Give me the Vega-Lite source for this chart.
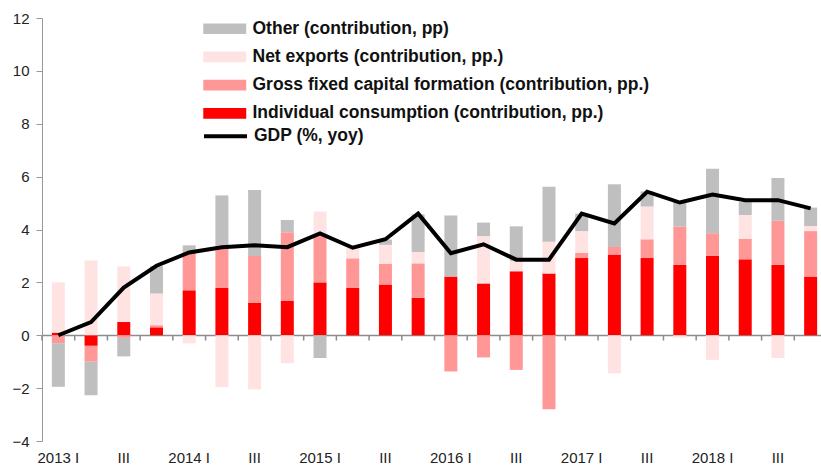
{
  "$schema": "https://vega.github.io/schema/vega-lite/v6.json",
  "width": 779,
  "height": 423,
  "autosize": {"type": "none"},
  "padding": {"left": 42, "top": 18, "right": 0, "bottom": 32},
  "background": "white",
  "config": {
    "view": {"stroke": null},
    "axis": {"labelFont": "Liberation Sans", "labelFontSize": 15, "labelColor": "#222", "domainColor": "#999", "tickColor": "#999"},
    "legend": {"labelFont": "Liberation Sans", "labelFontWeight": "bold", "labelFontSize": 17.5, "labelColor": "#111", "padding": 0, "labelLimit": 0}
  },
  "datasets": {
    "bars": [
      {"q": "2013 I", "s": "Individual consumption (contribution, pp.)", "v": 0.1},
      {"q": "2013 I", "s": "Gross fixed capital formation (contribution, pp.)", "v": -0.3},
      {"q": "2013 I", "s": "Net exports (contribution, pp.)", "v": 1.9},
      {"q": "2013 I", "s": "Other (contribution, pp)", "v": -1.65},
      {"q": "2013 II", "s": "Individual consumption (contribution, pp.)", "v": -0.4},
      {"q": "2013 II", "s": "Gross fixed capital formation (contribution, pp.)", "v": -0.6},
      {"q": "2013 II", "s": "Net exports (contribution, pp.)", "v": 2.83},
      {"q": "2013 II", "s": "Other (contribution, pp)", "v": -1.27},
      {"q": "2013 III", "s": "Individual consumption (contribution, pp.)", "v": 0.5},
      {"q": "2013 III", "s": "Gross fixed capital formation (contribution, pp.)", "v": -0.1},
      {"q": "2013 III", "s": "Net exports (contribution, pp.)", "v": 2.1},
      {"q": "2013 III", "s": "Other (contribution, pp)", "v": -0.7},
      {"q": "2013 IV", "s": "Individual consumption (contribution, pp.)", "v": 0.3},
      {"q": "2013 IV", "s": "Gross fixed capital formation (contribution, pp.)", "v": 0.08},
      {"q": "2013 IV", "s": "Net exports (contribution, pp.)", "v": 1.2},
      {"q": "2013 IV", "s": "Other (contribution, pp)", "v": 1.03},
      {"q": "2014 I", "s": "Individual consumption (contribution, pp.)", "v": 1.7},
      {"q": "2014 I", "s": "Gross fixed capital formation (contribution, pp.)", "v": 1.48},
      {"q": "2014 I", "s": "Net exports (contribution, pp.)", "v": -0.31},
      {"q": "2014 I", "s": "Other (contribution, pp)", "v": 0.22},
      {"q": "2014 II", "s": "Individual consumption (contribution, pp.)", "v": 1.79},
      {"q": "2014 II", "s": "Gross fixed capital formation (contribution, pp.)", "v": 1.61},
      {"q": "2014 II", "s": "Net exports (contribution, pp.)", "v": -1.96},
      {"q": "2014 II", "s": "Other (contribution, pp)", "v": 1.89},
      {"q": "2014 III", "s": "Individual consumption (contribution, pp.)", "v": 1.22},
      {"q": "2014 III", "s": "Gross fixed capital formation (contribution, pp.)", "v": 1.78},
      {"q": "2014 III", "s": "Net exports (contribution, pp.)", "v": -2.05},
      {"q": "2014 III", "s": "Other (contribution, pp)", "v": 2.49},
      {"q": "2014 IV", "s": "Individual consumption (contribution, pp.)", "v": 1.3},
      {"q": "2014 IV", "s": "Gross fixed capital formation (contribution, pp.)", "v": 2.6},
      {"q": "2014 IV", "s": "Net exports (contribution, pp.)", "v": -1.06},
      {"q": "2014 IV", "s": "Other (contribution, pp)", "v": 0.46},
      {"q": "2015 I", "s": "Individual consumption (contribution, pp.)", "v": 2.0},
      {"q": "2015 I", "s": "Gross fixed capital formation (contribution, pp.)", "v": 1.83},
      {"q": "2015 I", "s": "Net exports (contribution, pp.)", "v": 0.85},
      {"q": "2015 I", "s": "Other (contribution, pp)", "v": -0.86},
      {"q": "2015 II", "s": "Individual consumption (contribution, pp.)", "v": 1.79},
      {"q": "2015 II", "s": "Gross fixed capital formation (contribution, pp.)", "v": 1.12},
      {"q": "2015 II", "s": "Net exports (contribution, pp.)", "v": 0.39},
      {"q": "2015 II", "s": "Other (contribution, pp)", "v": 0.0},
      {"q": "2015 III", "s": "Individual consumption (contribution, pp.)", "v": 1.92},
      {"q": "2015 III", "s": "Gross fixed capital formation (contribution, pp.)", "v": 0.79},
      {"q": "2015 III", "s": "Net exports (contribution, pp.)", "v": 0.71},
      {"q": "2015 III", "s": "Other (contribution, pp)", "v": 0.2},
      {"q": "2015 IV", "s": "Individual consumption (contribution, pp.)", "v": 1.42},
      {"q": "2015 IV", "s": "Gross fixed capital formation (contribution, pp.)", "v": 1.3},
      {"q": "2015 IV", "s": "Net exports (contribution, pp.)", "v": 0.43},
      {"q": "2015 IV", "s": "Other (contribution, pp)", "v": 1.42},
      {"q": "2016 I", "s": "Individual consumption (contribution, pp.)", "v": 2.22},
      {"q": "2016 I", "s": "Gross fixed capital formation (contribution, pp.)", "v": -1.37},
      {"q": "2016 I", "s": "Net exports (contribution, pp.)", "v": 0.0},
      {"q": "2016 I", "s": "Other (contribution, pp)", "v": 2.31},
      {"q": "2016 II", "s": "Individual consumption (contribution, pp.)", "v": 1.96},
      {"q": "2016 II", "s": "Gross fixed capital formation (contribution, pp.)", "v": -0.84},
      {"q": "2016 II", "s": "Net exports (contribution, pp.)", "v": 1.79},
      {"q": "2016 II", "s": "Other (contribution, pp)", "v": 0.51},
      {"q": "2016 III", "s": "Individual consumption (contribution, pp.)", "v": 2.42},
      {"q": "2016 III", "s": "Gross fixed capital formation (contribution, pp.)", "v": -1.31},
      {"q": "2016 III", "s": "Net exports (contribution, pp.)", "v": 0.39},
      {"q": "2016 III", "s": "Other (contribution, pp)", "v": 1.31},
      {"q": "2016 IV", "s": "Individual consumption (contribution, pp.)", "v": 2.34},
      {"q": "2016 IV", "s": "Gross fixed capital formation (contribution, pp.)", "v": -2.8},
      {"q": "2016 IV", "s": "Net exports (contribution, pp.)", "v": 1.2},
      {"q": "2016 IV", "s": "Other (contribution, pp)", "v": 2.08},
      {"q": "2017 I", "s": "Individual consumption (contribution, pp.)", "v": 2.92},
      {"q": "2017 I", "s": "Gross fixed capital formation (contribution, pp.)", "v": 0.2},
      {"q": "2017 I", "s": "Net exports (contribution, pp.)", "v": 0.82},
      {"q": "2017 I", "s": "Other (contribution, pp)", "v": 0.66},
      {"q": "2017 II", "s": "Individual consumption (contribution, pp.)", "v": 3.05},
      {"q": "2017 II", "s": "Gross fixed capital formation (contribution, pp.)", "v": 0.29},
      {"q": "2017 II", "s": "Net exports (contribution, pp.)", "v": -1.44},
      {"q": "2017 II", "s": "Other (contribution, pp)", "v": 2.37},
      {"q": "2017 III", "s": "Individual consumption (contribution, pp.)", "v": 2.92},
      {"q": "2017 III", "s": "Gross fixed capital formation (contribution, pp.)", "v": 0.71},
      {"q": "2017 III", "s": "Net exports (contribution, pp.)", "v": 1.24},
      {"q": "2017 III", "s": "Other (contribution, pp)", "v": 0.57},
      {"q": "2017 IV", "s": "Individual consumption (contribution, pp.)", "v": 2.66},
      {"q": "2017 IV", "s": "Gross fixed capital formation (contribution, pp.)", "v": 1.45},
      {"q": "2017 IV", "s": "Net exports (contribution, pp.)", "v": -0.09},
      {"q": "2017 IV", "s": "Other (contribution, pp)", "v": 0.93},
      {"q": "2018 I", "s": "Individual consumption (contribution, pp.)", "v": 3.0},
      {"q": "2018 I", "s": "Gross fixed capital formation (contribution, pp.)", "v": 0.86},
      {"q": "2018 I", "s": "Net exports (contribution, pp.)", "v": -0.93},
      {"q": "2018 I", "s": "Other (contribution, pp)", "v": 2.44},
      {"q": "2018 II", "s": "Individual consumption (contribution, pp.)", "v": 2.87},
      {"q": "2018 II", "s": "Gross fixed capital formation (contribution, pp.)", "v": 0.78},
      {"q": "2018 II", "s": "Net exports (contribution, pp.)", "v": 0.9},
      {"q": "2018 II", "s": "Other (contribution, pp)", "v": 0.49},
      {"q": "2018 III", "s": "Individual consumption (contribution, pp.)", "v": 2.66},
      {"q": "2018 III", "s": "Gross fixed capital formation (contribution, pp.)", "v": 1.67},
      {"q": "2018 III", "s": "Net exports (contribution, pp.)", "v": -0.86},
      {"q": "2018 III", "s": "Other (contribution, pp)", "v": 1.62},
      {"q": "2018 IV", "s": "Individual consumption (contribution, pp.)", "v": 2.22},
      {"q": "2018 IV", "s": "Gross fixed capital formation (contribution, pp.)", "v": 1.72},
      {"q": "2018 IV", "s": "Net exports (contribution, pp.)", "v": 0.19},
      {"q": "2018 IV", "s": "Other (contribution, pp)", "v": 0.7}
    ],
    "gdp": [
      {"q": "2013 I", "g": 0.0}, {"q": "2013 II", "g": 0.5}, {"q": "2013 III", "g": 1.8}, {"q": "2013 IV", "g": 2.63},
      {"q": "2014 I", "g": 3.13}, {"q": "2014 II", "g": 3.33}, {"q": "2014 III", "g": 3.4}, {"q": "2014 IV", "g": 3.33},
      {"q": "2015 I", "g": 3.85}, {"q": "2015 II", "g": 3.31}, {"q": "2015 III", "g": 3.63}, {"q": "2015 IV", "g": 4.6},
      {"q": "2016 I", "g": 3.1}, {"q": "2016 II", "g": 3.44}, {"q": "2016 III", "g": 2.86}, {"q": "2016 IV", "g": 2.86},
      {"q": "2017 I", "g": 4.6}, {"q": "2017 II", "g": 4.23}, {"q": "2017 III", "g": 5.43}, {"q": "2017 IV", "g": 5.02},
      {"q": "2018 I", "g": 5.32}, {"q": "2018 II", "g": 5.11}, {"q": "2018 III", "g": 5.11}, {"q": "2018 IV", "g": 4.8}
    ]
  },
  "layer": [
    {
      "data": {"name": "bars"},
      "transform": [
        {"calculate": "indexof(['Individual consumption (contribution, pp.)','Gross fixed capital formation (contribution, pp.)','Net exports (contribution, pp.)','Other (contribution, pp)'], datum.s)", "as": "k"}
      ],
      "mark": {"type": "bar", "width": 13},
      "encoding": {
        "x": {
          "field": "q", "type": "nominal", "sort": null,
          "scale": {"range": [0, 785], "paddingInner": 0, "paddingOuter": 0},
          "axis": {
            "title": null, "grid": false, "domain": false, "ticks": false, "labelAngle": 0, "labelPadding": 9, "labelOverlap": false,
            "labelExpr": "indexof(datum.label, 'III') >= 0 ? 'III' : (substring(datum.label, 5) == 'I' ? datum.label : '')"
          }
        },
        "y": {
          "field": "v", "type": "quantitative", "stack": "zero",
          "scale": {"domain": [-4, 12], "nice": false},
          "axis": {
            "title": null, "values": [-4, -2, 0, 2, 4, 6, 8, 10, 12], "tickSize": 6, "labelPadding": 7,
            "grid": true, "gridWidth": 1.5,
            "gridColor": {"condition": {"test": "datum.value === 0", "value": "#8c8c8c"}, "value": "transparent"}
          }
        },
        "fill": {
          "field": "s", "type": "nominal",
          "scale": {
            "domain": ["Other (contribution, pp)", "Net exports (contribution, pp.)", "Gross fixed capital formation (contribution, pp.)", "Individual consumption (contribution, pp.)"],
            "range": ["#BFBFBF", "#FFE3E3", "#FF9797", "#FF0000"]
          },
          "legend": {
            "title": null, "orient": "none", "legendX": 174, "legendY": 2,
            "symbolType": "M-3,-0.75H3V0.75H-3Z", "symbolSize": 205, "symbolStrokeWidth": 0,
            "labelOffset": 19, "rowPadding": 9.2
          }
        },
        "order": {"field": "k", "type": "quantitative"}
      }
    },
    {
      "data": {"name": "gdp"},
      "mark": {"type": "rule", "stroke": "#8c8c8c", "strokeWidth": 1.5},
      "encoding": {
        "x": {"field": "q", "type": "nominal", "sort": null, "bandPosition": 0},
        "y": {"datum": 0},
        "y2": {"datum": -0.2}
      }
    },
    {
      "data": {"name": "gdp"},
      "mark": {"type": "line", "strokeWidth": 4},
      "encoding": {
        "x": {"field": "q", "type": "nominal", "sort": null, "bandPosition": 0.5},
        "y": {"field": "g", "type": "quantitative"},
        "stroke": {
          "datum": "GDP (%, yoy)",
          "scale": {"range": ["black"]},
          "legend": {
            "title": null, "orient": "none", "legendX": 174, "legendY": 108.8,
            "symbolType": "M-3,0H3", "symbolSize": 205, "symbolStrokeWidth": 4, "symbolFillColor": "transparent",
            "labelOffset": 19
          }
        }
      }
    }
  ]
}
